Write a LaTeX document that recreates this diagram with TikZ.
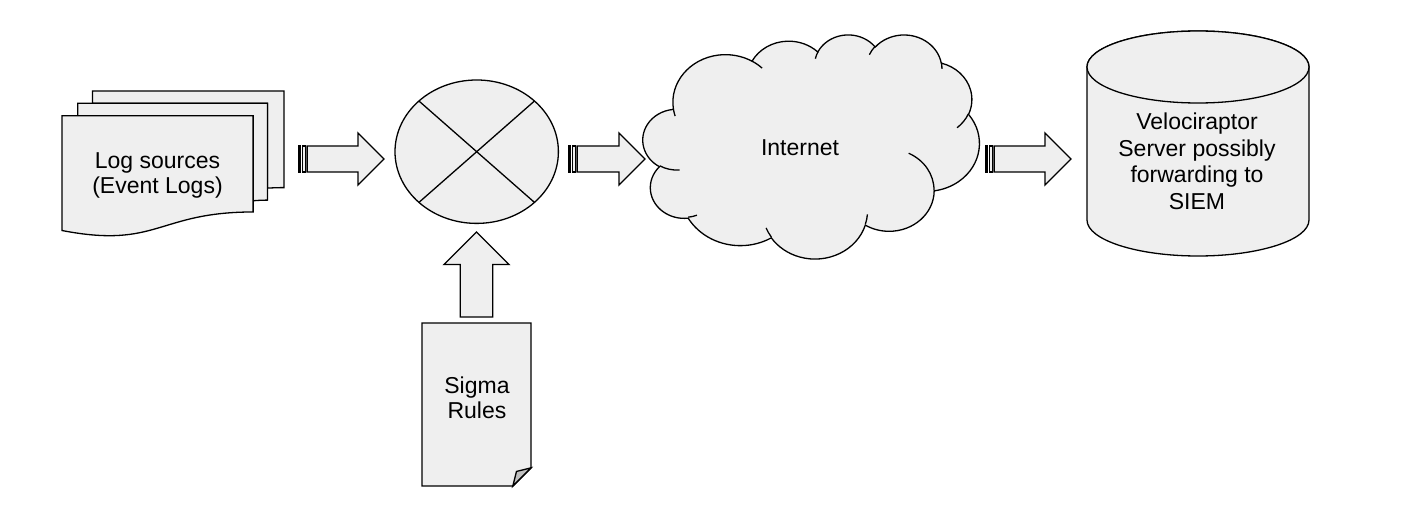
\documentclass[tikz,border=0pt]{standalone}
\usepackage{fontspec}
\setmainfont{Liberation Sans}
\usetikzlibrary{calc}
\definecolor{shfill}{HTML}{EFEFEF}
\definecolor{shfold}{HTML}{BFBFBF}
\tikzset{
  shp/.style={draw=black, fill=shfill, line width=1.3pt, line join=miter},
  cldline/.style={draw=black, line width=1.3pt},
  lbl/.style={font=\fontsize{23}{25}\selectfont, align=center, inner sep=0pt, text=black},
}
% OOXML-style arcTo: #1 wR, #2 hR (path units), #3 start angle, #4 sweep (degrees, visual angles)
\newcommand\cldarc[4]{%
  \pgfextra{%
    \pgfmathsetmacro\cldA{atan2(#1*sin(#3),#2*cos(#3))}%
    \pgfmathsetmacro\cldB{atan2(#1*sin(#3+#4),#2*cos(#3+#4))}%
    \pgfmathsetmacro\cldD{mod(\cldB-\cldA+720,360)}%
    \pgfmathsetmacro\cldS{-\cldA}%
    \pgfmathsetmacro\cldE{-\cldD}%
    \pgfmathsetmacro\cldX{#1*0.77847}%
    \pgfmathsetmacro\cldY{#2*0.51864}%
  }%
  arc[start angle=\cldS, delta angle=\cldE, x radius=\cldX pt, y radius=\cldY pt]%
}
% striped right arrow, #1 left x, #2 tip x (y from 133 to 185)
\newcommand\striparrow[2]{%
  \draw[shp] (#1,146) rectangle ({#1+1.6},172);
  \draw[shp] ({#1+3.25},146) rectangle ({#1+6.5},172);
  \draw[shp] ({#1+8.1},146) -- ({#2-26},146) -- ({#2-26},133) -- (#2,159)
     -- ({#2-26},185) -- ({#2-26},172) -- ({#1+8.1},172) -- cycle;
}
\begin{document}
\begin{tikzpicture}[x=1pt,y=-1pt]
\useasboundingbox (0,0) rectangle (1409,524);

% ---- multi-document: Log sources
\draw[shp] (92.55,103.18) -- (92.55,91) -- (284,91) -- (284,187.61)
  .. controls (275.78,187.61) and (267.56,188.12) .. (267.56,188.12) -- (267.56,103.18) -- cycle;
\draw[shp] (77.75,115.67) -- (77.75,103.18) -- (267.56,103.18) -- (267.56,200.10)
  .. controls (260.34,200.10) and (253.12,200.77) .. (253.12,200.77) -- (253.12,115.67) -- cycle;
\draw[shp] (62,230.51) .. controls (157.56,249.04) and (157.56,211.98) .. (253.12,211.98)
  -- (253.12,115.67) -- (62,115.67) -- cycle;
\node[lbl] (log) at (157.5,175.3) {Log sources\\(Event Logs)};

% ---- arrow 1
\striparrow{299}{384}

% ---- "or" ellipse
\draw[shp] (476.7,151.7) ellipse [x radius=81.7pt, y radius=71.7pt];
\coordinate (orc) at (476.7,151.7);
\draw[cldline] ($(orc)+(-57.77,-50.7)$) -- ($(orc)+(57.77,50.7)$);
\draw[cldline] ($(orc)+(57.77,-50.7)$) -- ($(orc)+(-57.77,50.7)$);

% ---- up arrow
\draw[shp] (460.25,317) -- (460.25,264.5) -- (444,264.5) -- (476.5,232) -- (509,264.5)
  -- (492.75,264.5) -- (492.75,317) -- cycle;

% ---- Sigma rules folded document
\draw[shp] (422,323) -- (531,323) -- (531,467.83) -- (512.83,486) -- (422,486) -- cycle;
\draw[shp, fill=shfold] (512.83,486) -- (516.46,471.46) -- (531,467.83) -- cycle;
\node[lbl] (sigma) at (477,397.9) {Sigma\\Rules};

% ---- arrow 2
\striparrow{569}{645}

% ---- cloud
\begin{scope}[shift={(643,34.2)}, x=0.77847pt, y=-0.51864pt]
\draw[shp] (39.00,143.70)
  \cldarc{67.53}{91.90}{-190.48748}{123.78053}
  \cldarc{53.33}{72.67}{-144.10238}{89.94523}
  \cldarc{43.65}{59.45}{-145.80792}{99.72302}
  \cldarc{48.57}{65.95}{-130.98607}{117.24173}
  \cldarc{53.33}{72.73}{-78.70888}{109.02692}
  \cldarc{67.75}{92.20}{-46.26725}{130.269}
  \cldarc{57.85}{78.67}{0.62502}{114.03333}
  \cldarc{67.52}{92.15}{22.4516}{115.17255}
  \cldarc{77.20}{105.43}{66.24263}{75.71102}
  \cldarc{43.60}{59.18}{-274.94208}{146.73557}
  \cldarc{43.45}{59.45}{-246.8285}{152.51885}
  -- cycle;
\draw[cldline]
  (46.93,261.77) \cldarc{43.45}{59.45}{86.742}{26.4295}
  (69.28,348.99) \cldarc{43.60}{59.18}{73.61047}{11.44747}
  (164.78,390.90) \cldarc{67.52}{92.15}{137.62415}{14.0811}
  (288.27,347.51) \cldarc{67.52}{92.15}{6.45327}{15.99835}
  (341.29,229.54) \cldarc{57.85}{78.67}{-70.29235}{70.91737}
  (417.98,153.54) \cldarc{53.33}{72.73}{30.31803}{27.7515}
  (383.24,54.26) \cldarc{48.57}{65.95}{-13.74433}{14.8589}
  (290.78,39.52) \cldarc{48.57}{65.95}{-149.18145}{18.19537}
  (221.41,47.20) \cldarc{43.65}{59.45}{-163.49427}{17.68635}
  (140.00,51.92) \cldarc{67.53}{91.90}{-66.70695}{12.31935}
  (41.27,157.89) \cldarc{67.53}{91.90}{157.65435}{11.85817};
\end{scope}
\node[lbl] (internet) at (800,148.1) {Internet};

% ---- arrow 3
\striparrow{986}{1071}

% ---- cylinder
\draw[shp] (1087,67) -- (1087,220) arc[start angle=180, end angle=360, x radius=111pt, y radius=36pt]
  -- (1309,67) arc[start angle=0, end angle=180, x radius=111pt, y radius=36pt] -- cycle;
\draw[shp] (1198,67) ellipse [x radius=111pt, y radius=36pt];
\node[lbl, font=\fontsize{23}{26.7}\selectfont] (velo) at (1197,161.3)
  {Velociraptor\\Server possibly\\forwarding to\\SIEM};
\end{tikzpicture}
\end{document}
